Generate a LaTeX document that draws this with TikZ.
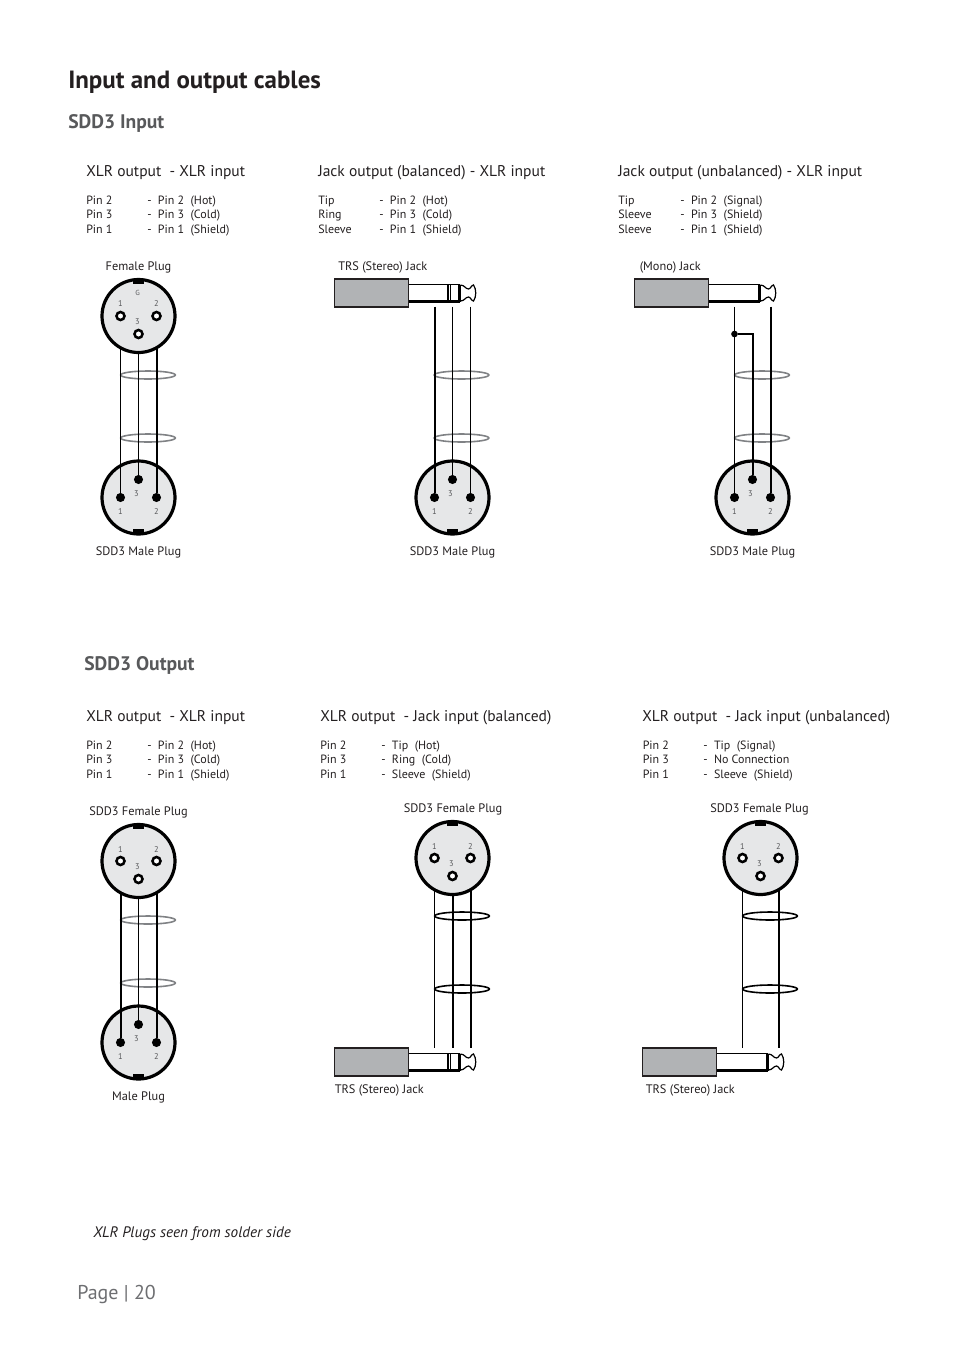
\documentclass[tikz,border=0pt]{standalone}
\usepackage{fontspec}
\setmainfont{PT Sans}
\usetikzlibrary{shapes.geometric}
\definecolor{inkdark}{HTML}{231F20}
\definecolor{inkgrey}{HTML}{58595B}
\definecolor{pagegrey}{HTML}{6D6E71}
\definecolor{plugfill}{HTML}{E6E7E8}
\definecolor{jackfill}{HTML}{B1B3B5}
\definecolor{ringgrey}{HTML}{808285}
\tikzset{
  title/.style={anchor=base west, inner sep=0, text=inkdark, font=\fontsize{18.7}{20}\selectfont\bfseries},
  subtitle/.style={anchor=base west, inner sep=0, text=inkgrey, font=\fontsize{14.7}{16}\selectfont\bfseries},
  header/.style={anchor=base west, inner sep=0, text=inkdark, font=\fontsize{11.65}{13}\selectfont},
  row/.style={anchor=base west, inner sep=0, text=inkdark, font=\fontsize{9}{11}\selectfont},
  caption/.style={anchor=base, inner sep=0, text=inkdark, font=\fontsize{9.25}{11}\selectfont},
  leftcaption/.style={caption, anchor=base west},
  digit/.style={inner sep=0, text=inkgrey, font=\fontsize{6.3}{7}\selectfont},
  plugbody/.style={circle, draw=black, fill=plugfill, line width=2.4pt, minimum size=54.75pt, outer sep=0, inner sep=0},
  notch/.style={rectangle, fill=black, minimum width=8.5pt, minimum height=4pt, inner sep=0},
  socket/.style={circle, draw=black, fill=white, line width=1.9pt, minimum size=6pt, inner sep=0, outer sep=0},
  pin/.style={circle, fill=black, minimum size=6.8pt, inner sep=0, outer sep=0},
  joint/.style={circle, fill=black, minimum size=5pt, inner sep=0, outer sep=0},
  jackbody/.style={rectangle, draw=inkdark, fill=jackfill, line width=1.3pt, minimum width=55.5pt, minimum height=20.6pt, inner sep=0, outer sep=0},
  thinwire/.style={line width=0.8pt, black},
  thickwire/.style={line width=1.5pt, black},
  ring/.style={ellipse, draw=ringgrey, line width=1.2pt, minimum width=41pt, minimum height=6pt, inner sep=0},
  darkring/.style={ring, draw=black}
}
% female plug: name, x, y
\newcommand{\femaleplug}[3]{
  \node (#1) [plugbody] at (#2, #3) {};
  \node (#1-n) [notch] at (#2, #3-34.5) {};
  \node (#1-1) [socket] at (#2-18, #3) {};
  \node (#1-2) [socket] at (#2+18, #3) {};
  \node (#1-3) [socket] at (#2, #3+18) {};
  \node (#1-a) [digit] at (#2-18, #3-12) {1};
  \node (#1-b) [digit] at (#2+18, #3-12) {2};
  \node (#1-c) [digit] at (#2-1, #3+6) {3};
  \coordinate (#1-1e) at (#2-18, #3+32);
  \coordinate (#1-2e) at (#2+18, #3+32);
  \coordinate (#1-3e) at (#2, #3+36.5);
}
% male plug: name, x, y
\newcommand{\maleplug}[3]{
  \node (#1) [plugbody] at (#2, #3) {};
  \node (#1-n) [notch] at (#2, #3+34.5) {};
  \node (#1-1) [pin] at (#2-18, #3) {};
  \node (#1-2) [pin] at (#2+18, #3) {};
  \node (#1-3) [pin] at (#2, #3-18) {};
  \node (#1-a) [digit] at (#2-18, #3+14) {1};
  \node (#1-b) [digit] at (#2+18, #3+14) {2};
  \node (#1-c) [digit] at (#2-2, #3-4) {3};
}
% jack: name, x of left end, y of axis
\newcommand{\jack}[3]{
  \node (#1) [jackbody, anchor=west] at (#2, #3) {};
  \draw[line width=0.9pt, black] (#2+74, #3-8.5) -- (#2+125, #3-8.5);
  \draw[line width=1.6pt, black] (#2+74, #3+8.5) -- (#2+125, #3+8.5);
  \draw[line width=1.8pt, black] (#2+125, #3-8.5) -- (#2+125, #3+8.5);
  \draw[line width=0.9pt, black] (#2+126, #3-8) .. controls (#2+130, #3-8) and (#2+131, #3-4) .. (#2+134, #3-4)
    .. controls (#2+136, #3-4) and (#2+137, #3-8) .. (#2+139, #3-8)
    .. controls (#2+142, #3-4) and (#2+142, #3+4) .. (#2+139, #3+8)
    .. controls (#2+137, #3+8) and (#2+136, #3+4) .. (#2+134, #3+4)
    .. controls (#2+131, #3+4) and (#2+130, #3+8) .. (#2+126, #3+8);
}
% ring of a stereo jack: x of left end, y of axis
\newcommand{\jackring}[2]{
  \draw[line width=1.7pt, black] (#1+113.5, #2-8.5) -- (#1+113.5, #2+8.5);
  \draw[line width=0.7pt, black] (#1+115.5, #2-8.5) -- (#1+115.5, #2+8.5);
}
% three rows of a pin table: name, x left, x right, y of first row, rows
\newcommand{\pintable}[5]{
  \foreach \lft/\rgt [count=\i] in {#5} {
    \node (#1-l\i) [row] at (#2, #4+14.5*\i-14.5) {\lft};
    \node (#1-r\i) [row] at (#3, #4+14.5*\i-14.5) {-\ \ \rgt};
  }
}
\begin{document}
\begin{tikzpicture}[x=0.75pt, y=-0.75pt]
  \useasboundingbox (0, 0) rectangle (954, 1350);

  \node (head) [title] at (68, 88.5) {Input and output cables};
  \node (inhead) [subtitle] at (68, 128) {SDD3 Input};
  \node (outhead) [subtitle] at (84, 670) {SDD3 Output};

  \node (h1) [header] at (86, 176) {XLR output\ \ - XLR input};
  \node (h2) [header] at (318, 176) {Jack output (balanced) - XLR input};
  \node (h3) [header] at (618, 176) {Jack output (unbalanced) - XLR input};
  \node (h4) [header] at (86, 721) {XLR output\ \ - XLR input};
  \node (h5) [header] at (320, 721) {XLR output\ \ - Jack input (balanced)};
  \node (h6) [header] at (642, 721) {XLR output\ \ - Jack input (unbalanced)};

  \pintable{t1}{86}{147}{204}{Pin 2/Pin 2\ \ (Hot), Pin 3/Pin 3\ \ (Cold), Pin 1/Pin 1\ \ (Shield)}
  \pintable{t2}{318}{379}{204}{Tip/Pin 2\ \ (Hot), Ring/Pin 3\ \ (Cold), Sleeve/Pin 1\ \ (Shield)}
  \pintable{t3}{618}{680}{204}{Tip/Pin 2\ \ (Signal), Sleeve/Pin 3\ \ (Shield), Sleeve/Pin 1\ \ (Shield)}
  \pintable{t4}{86}{147}{749}{Pin 2/Pin 2\ \ (Hot), Pin 3/Pin 3\ \ (Cold), Pin 1/Pin 1\ \ (Shield)}
  \pintable{t5}{320}{381}{749}{Pin 2/Tip\ \ (Hot), Pin 3/Ring\ \ (Cold), Pin 1/Sleeve\ \ (Shield)}
  \pintable{t6}{642.5}{703}{749}{Pin 2/Tip\ \ (Signal), Pin 3/No Connection, Pin 1/Sleeve\ \ (Shield)}

  % input, xlr to xlr
  \node (c1) [caption] at (138.5, 270) {Female Plug};
  \femaleplug{fa}{138.5}{316}
  \node (fa-g) [digit, font=\fontsize{5.5}{6}\selectfont] at (137.5, 293) {G};
  \maleplug{ma}{138.5}{497.5}
  \node (c2) [caption] at (138.5, 555) {SDD3 Male Plug};
  \node (ra) [ring] at (148, 375) {};
  \node (rb) [ring] at (148, 438) {};
  \draw[thinwire] (fa-1e) -- (ma-1);
  \draw[thinwire] (fa-3e) -- (ma-3);
  \draw[thickwire] (fa-2e) -- (ma-2);

  % input, stereo jack
  \node (c3) [leftcaption] at (338, 270) {TRS (Stereo) Jack};
  \jack{ja}{334.5}{293}
  \jackring{334.5}{293}
  \maleplug{mb}{452.5}{497.5}
  \node (c4) [caption] at (452.5, 555) {SDD3 Male Plug};
  \node (rc) [ring] at (461.5, 375) {};
  \node (rd) [ring] at (461.5, 438) {};
  \draw[thickwire] (mb-1 |- ja.south) -- (mb-1);
  \draw[thinwire] (mb-3 |- ja.south) -- (mb-3);
  \draw[thinwire] (mb-2 |- ja.south) -- (mb-2);

  % input, mono jack
  \node (c5) [leftcaption] at (639.5, 270) {(Mono) Jack};
  \jack{jb}{634.5}{293}
  \maleplug{mc}{752.5}{497.5}
  \node (c6) [caption] at (752.5, 555) {SDD3 Male Plug};
  \node (re) [ring] at (762, 375) {};
  \node (rf) [ring] at (762, 438) {};
  \node (dot) [joint] at (734.5, 334) {};
  \draw[thinwire] (mc-1 |- jb.south) -- (mc-1);
  \draw[thickwire] (mc-2 |- jb.south) -- (mc-2);
  \draw[thickwire] (dot) -| (mc-3);

  % output, xlr to xlr
  \node (c7) [caption] at (138.5, 815) {SDD3 Female Plug};
  \femaleplug{fb}{138.5}{861}
  \maleplug{md}{138.5}{1042.5}
  \node (c8) [caption] at (138.5, 1100) {Male Plug};
  \node (rg) [ring] at (148, 920) {};
  \node (rh) [ring] at (148, 983) {};
  \draw[thickwire] (fb-1e) -- (md-1);
  \draw[thinwire] (fb-3e) -- (md-3);
  \draw[thickwire] (fb-2e) -- (md-2);

  % output, stereo jack
  \node (c9) [caption] at (453, 812) {SDD3 Female Plug};
  \femaleplug{fc}{452.5}{858}
  \jack{jc}{334.5}{1062}
  \jackring{334.5}{1062}
  \node (c10) [leftcaption] at (334.5, 1093) {TRS (Stereo) Jack};
  \node (ri) [darkring] at (462, 916) {};
  \node (rj) [darkring] at (462, 989) {};
  \draw[thinwire] (fc-1e) -- (fc-1 |- jc.north);
  \draw[thickwire] (fc-3e) -- (fc-3 |- jc.north);
  \draw[thickwire] (fc-2e) -- (fc-2 |- jc.north);

  % output, unbalanced jack
  \node (c11) [caption] at (759.5, 812) {SDD3 Female Plug};
  \femaleplug{fd}{760.5}{858}
  \jack{jd}{642.5}{1062}
  \node (c12) [leftcaption] at (645.5, 1093) {TRS (Stereo) Jack};
  \node (rk) [darkring] at (770, 916) {};
  \node (rl) [darkring] at (770, 989) {};
  \draw[thinwire] (fd-1e) -- (fd-1 |- jd.north);
  \draw[thickwire] (fd-2e) -- (fd-2 |- jd.north);

  \node (note) [header, font=\fontsize{11.4}{13}\selectfont\itshape] at (93, 1237) {XLR Plugs seen from solder side};
  \node (page) [anchor=base west, inner sep=0, text=pagegrey, font=\fontsize{15}{17}\selectfont] at (77, 1299) {Page | 20};
\end{tikzpicture}
\end{document}
